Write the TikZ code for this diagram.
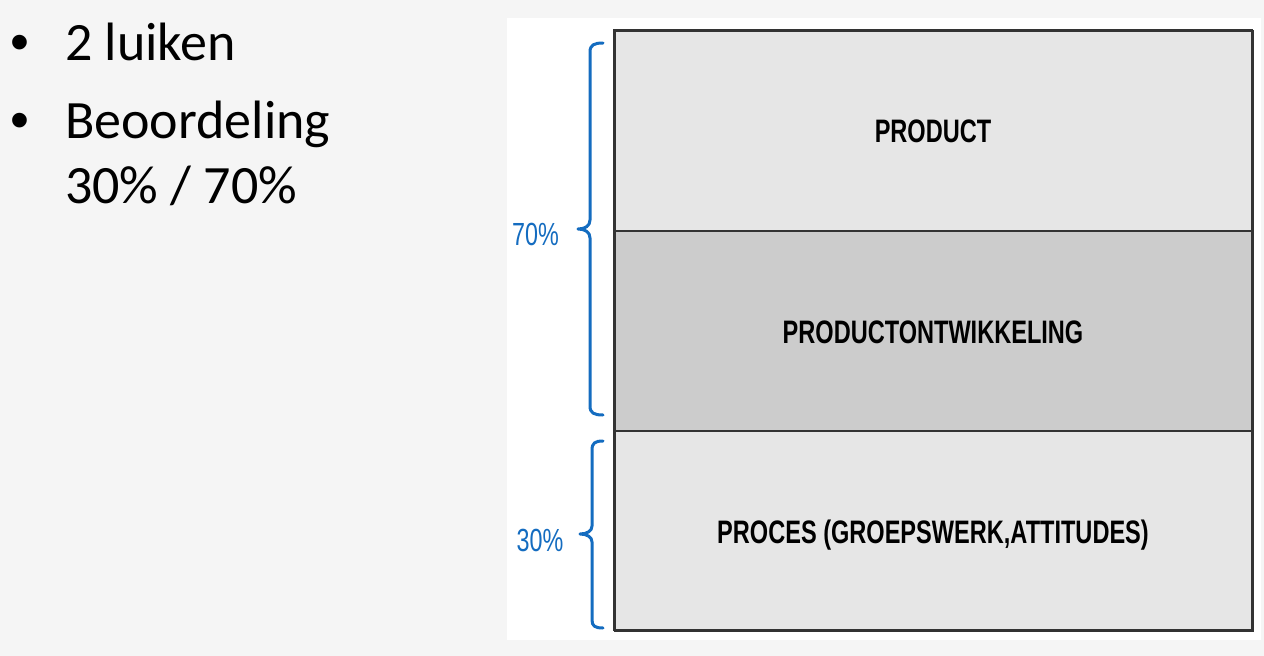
\documentclass[tikz,border=0pt]{standalone}
\usepackage{fontspec}
\setmainfont{Carlito}
\newfontfamily\arialf{Liberation Sans}
\definecolor{pagebg}{RGB}{245,245,245}
\definecolor{lightbox}{RGB}{230,230,230}
\definecolor{midbox}{RGB}{204,204,204}
\definecolor{boxline}{RGB}{51,51,51}
\definecolor{braceblue}{RGB}{20,108,192}
\tikzset{
  bullettext/.style={anchor=base west, inner sep=0pt, font=\fontsize{54}{64}\selectfont},
  bulletdot/.style={anchor=base, inner sep=0pt, font=\arialf\fontsize{54}{64}\selectfont},
  layerbox/.style={draw=boxline, line width=1.8pt, minimum width=638pt, minimum height=200pt, inner sep=0pt, anchor=north west},
  layerlabel/.style={anchor=base, inner sep=0pt, font=\arialf\bfseries\fontsize{32.5}{38}\selectfont},
  pctlabel/.style={inner sep=0pt, text=braceblue, font=\arialf\fontsize{32}{38}\selectfont},
  bracepath/.style={draw=braceblue, line width=3pt, line cap=round, line join=round}
}
\begin{document}
\begin{tikzpicture}[x=1pt,y=-1pt]
\useasboundingbox (0,0) rectangle (1264,656);
\fill[pagebg] (0,0) rectangle (1264,656);
\fill[white] (507,18) rectangle (1261,640);
% bullets
\node[bulletdot] (d1) at (20,60) {•};
\node[bullettext] (t1) at (65,60) {2 luiken};
\node[bulletdot] (d2) at (20,138) {•};
\node[bullettext] (t2) at (65,138) {Beoordeling};
\node[bullettext] (t3) at (65,203) {30\% / 70\%};
% boxes
\node[layerbox, fill=lightbox] (product) at (614,30) {};
\node[layerbox, fill=midbox] (ontw) at (614,230) {};
\node[layerbox, fill=lightbox] (proces) at (614,430) {};
\draw[boxline, line width=1.8pt] (614,30) rectangle (1252,630);
\node[layerlabel] (lproduct) at (933,142.7) {\scalebox{0.725}[1]{PRODUCT}};
\node[layerlabel] (lontw) at (933,343) {\scalebox{0.725}[1]{PRODUCTONTWIKKELING}};
\node[layerlabel] (lproces) at (933,543) {\scalebox{0.725}[1]{PROCES (GROEPSWERK,ATTITUDES)}};
% braces
\draw[bracepath] (603,43) .. controls (594,43) and (590,45) .. (590,52) -- (590,220)
  .. controls (590,226) and (585,229) .. (578,229)
  .. controls (585,229) and (590,232) .. (590,238) -- (590,406)
  .. controls (590,413) and (594,415) .. (603,415);
\draw[bracepath] (603,441) .. controls (595,441) and (592,443) .. (592,450) -- (592,526)
  .. controls (592,531) and (587,534) .. (580,534)
  .. controls (587,534) and (592,537) .. (592,542) -- (592,620)
  .. controls (592,626) and (595,628) .. (603,628);
\node[pctlabel] (p70) at (535.5,234) {\scalebox{0.73}[1]{70\%}};
\node[pctlabel] (p30) at (540,540) {\scalebox{0.73}[1]{30\%}};
\end{tikzpicture}
\end{document}
